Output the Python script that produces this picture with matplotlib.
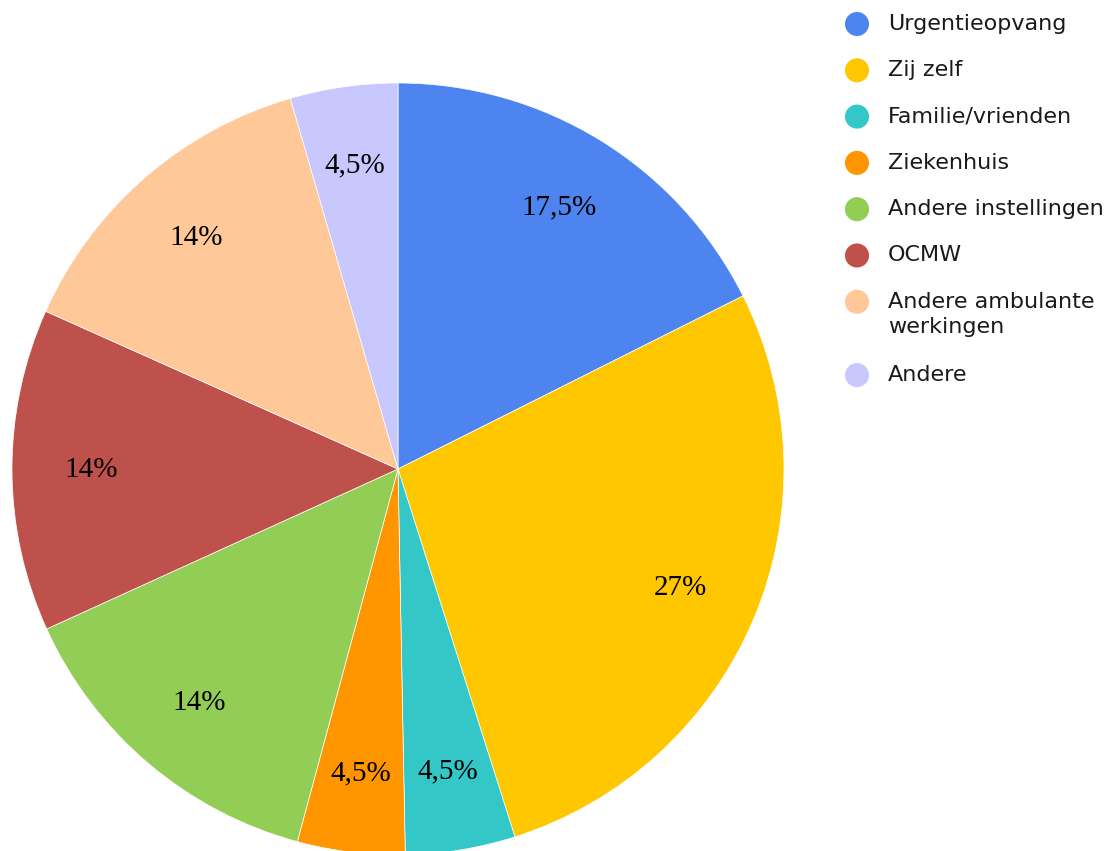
import matplotlib
matplotlib.use('Agg')
import matplotlib.pyplot as plt

labels = ['Urgentieopvang', 'Zij zelf', 'Familie/vrienden', 'Ziekenhuis',
          'Andere instellingen', 'OCMW', 'Andere ambulante\nwerkingen', 'Andere']
# slice sizes (percent)
values = [17.6, 27.5, 4.6, 4.5, 14.0, 13.5, 13.8, 4.5]
pct_text = ['17,5%', '27%', '4,5%', '4,5%', '14%', '14%', '14%', '4,5%']
colors = ['#4E84F0', '#FFC700', '#33C7C7', '#FF9600',
          '#92CD55', '#BE514B', '#FFC898', '#C8C8FF']

W, H = 1119, 851
fig = plt.figure(figsize=(W / 100, H / 100), dpi=100)
ax = fig.add_axes([0, 0, 1, 1])

cx, cy, r = 398, H - 469, 386
wedges, texts = ax.pie(values, colors=colors, startangle=90, counterclock=False,
                       center=(cx, cy), radius=r, labels=pct_text,
                       labeldistance=0.795, frame=True,
                       wedgeprops={'linewidth': 0.5, 'edgecolor': 'white'},
                       textprops={'family': 'Liberation Serif', 'fontsize': 21})
for t in texts:
    t.set_horizontalalignment('center')
    t.set_verticalalignment('center')
ax.set_xlim(0, W)
ax.set_ylim(0, H)
ax.set_aspect('equal')
ax.axis('off')

# legend drawn by hand to keep the reference spacing
lx, tx, y, step = 857, 888, H - 24, 46.3
for lab, col in zip(labels, colors):
    ax.scatter([lx], [y], s=300, color=col, edgecolors='none', zorder=5)
    if '\n' in lab:
        ax.text(tx, y + 10, lab, fontsize=16, family='DejaVu Sans', va='top',
                ha='left', color='#1a1a1a', linespacing=1.3)
        y -= step + 27
    else:
        ax.text(tx, y, lab, fontsize=16, family='DejaVu Sans', va='center',
                ha='left', color='#1a1a1a')
        y -= step

fig.savefig('out.png', dpi=100)
